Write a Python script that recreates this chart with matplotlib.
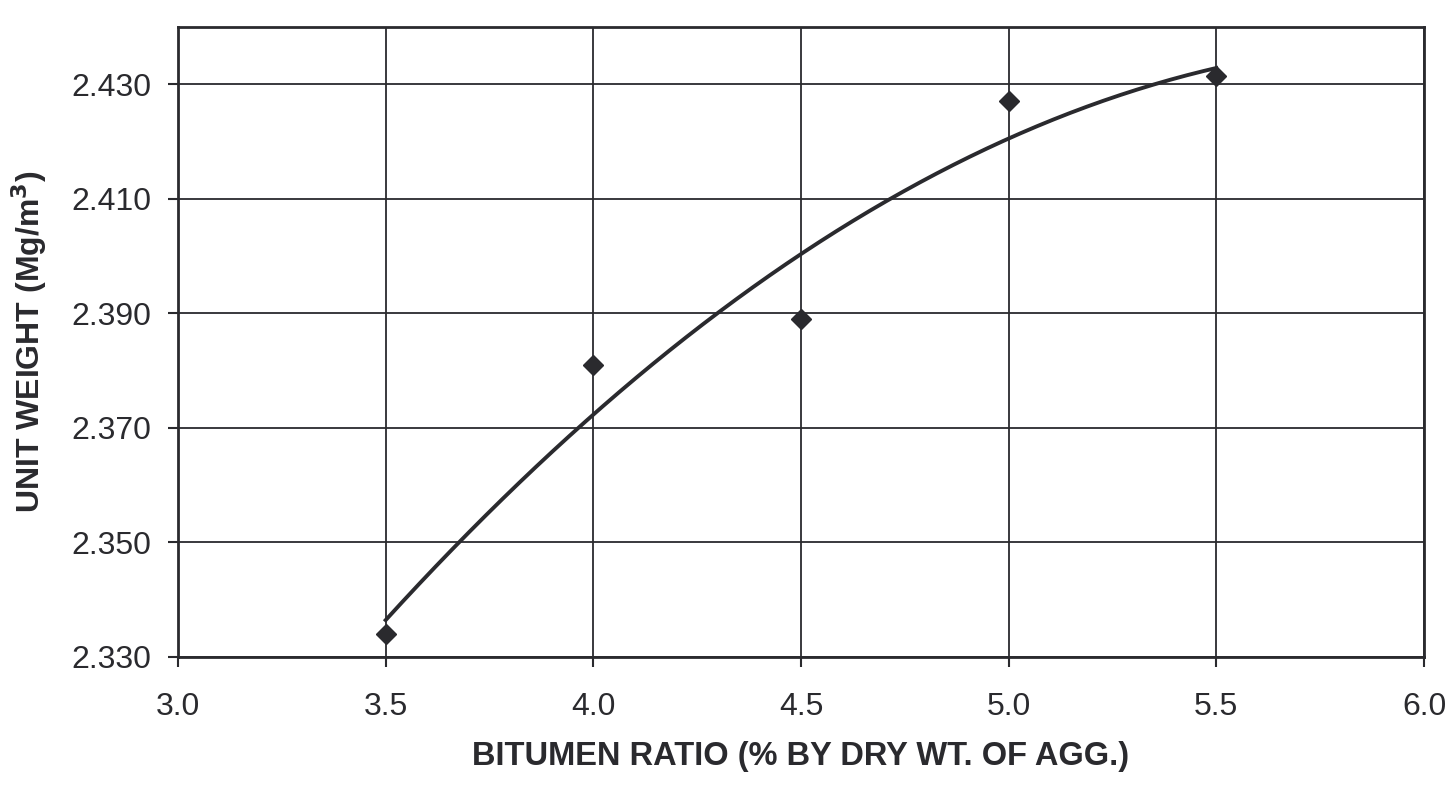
import numpy as np
import matplotlib
matplotlib.use("Agg")
import matplotlib.pyplot as plt

# data
bitumen = [3.5, 4.0, 4.5, 5.0, 5.5]
unit_weight = [2.334, 2.381, 2.389, 2.427, 2.4315]

x_ticks = [3.0, 3.5, 4.0, 4.5, 5.0, 5.5, 6.0]
y_ticks = [2.330, 2.350, 2.370, 2.390, 2.410, 2.430]

plt.rcParams['font.family'] = ['Liberation Sans', 'DejaVu Sans']
ink = '#2a2a2e'

fig = plt.figure(figsize=(14.49, 7.85), dpi=100)
ax = fig.add_axes([178 / 1449, 1 - 657 / 785, (1424 - 178) / 1449, (657 - 27) / 785])

# 2nd order polynomial trend line, like the spreadsheet one
coef = np.polyfit(bitumen, unit_weight, 2)
xs = np.linspace(bitumen[0], bitumen[-1], 200)
ax.plot(xs, np.polyval(coef, xs), color=ink, lw=2.8, zorder=3)

ax.plot(bitumen, unit_weight, linestyle='none', marker='D', markersize=10,
        color=ink, zorder=4)

ax.set_xlim(3.0, 6.0)
ax.set_ylim(2.330, 2.440)
ax.set_xticks(x_ticks)
ax.set_yticks(y_ticks)
ax.set_xticklabels([f"{v:.1f}" for v in x_ticks])
ax.set_yticklabels([f"{v:.3f}" for v in y_ticks])

ax.grid(True, color=ink, lw=1.3)
ax.set_axisbelow(True)
for s in ax.spines.values():
    s.set_color(ink)
    s.set_linewidth(2.0)

ax.tick_params(axis='both', direction='out', length=7, width=1.5, color=ink,
               labelsize=23, labelcolor=ink)
ax.tick_params(axis='x', pad=18)
ax.tick_params(axis='y', pad=12)

ax.set_xlabel("BITUMEN RATIO (% BY DRY WT. OF AGG.)", fontsize=23.5,
              fontweight='bold', color=ink, labelpad=14)
ax.set_ylabel("UNIT WEIGHT (Mg/m$^\\mathbf{3}$)", fontsize=23,
              fontweight='bold', color=ink, labelpad=16)

fig.savefig("out.png", dpi=100, facecolor='white')
